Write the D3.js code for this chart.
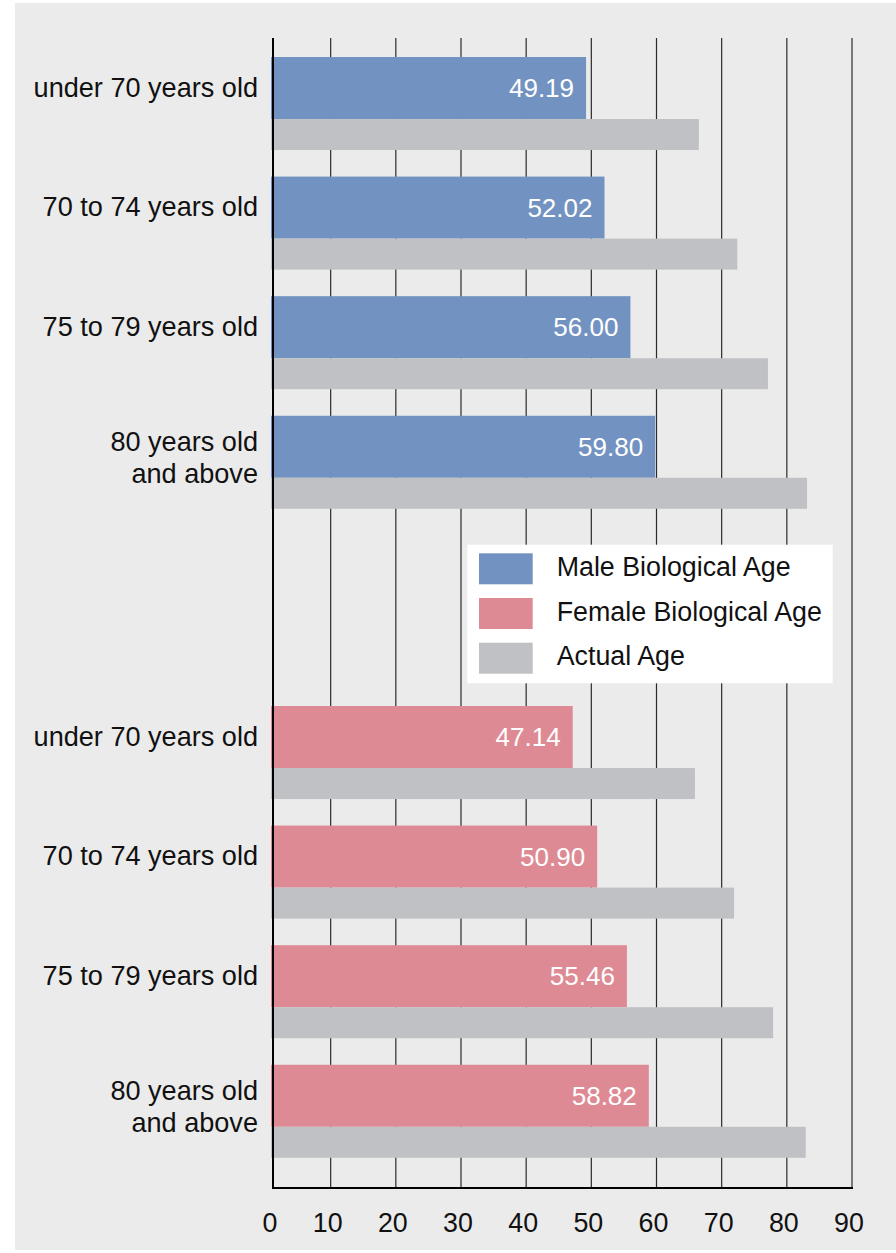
<!DOCTYPE html>
<html>
<head>
<meta charset="utf-8">
<script src="https://cdn.jsdelivr.net/npm/d3@7"></script>
<style>
  html, body { margin: 0; padding: 0; background: #ffffff; }
  svg { display: block; font-family: "Liberation Sans", Arial, Helvetica, sans-serif; }
</style>
</head>
<body>
<svg id="chart" width="896" height="1253"></svg>
<script>
// ---- data ----
const categories = ["under 70 years old", "70 to 74 years old", "75 to 79 years old", "80 years old\nand above"];
const maleBiological = [49.19, 52.02, 56.00, 59.80];
const maleActual = [66.5, 72.4, 77.1, 83.1];
const femaleBiological = [47.14, 50.90, 55.46, 58.82];
const femaleActual = [65.9, 71.9, 77.9, 82.9];
const tickValues = [0, 10, 20, 30, 40, 50, 60, 70, 80, 90];
const legendLabels = ["Male Biological Age", "Female Biological Age", "Actual Age"];

// ---- styles ----
const colors = { male: "#7293c1", female: "#de8a94", actual: "#c0c1c5", bg: "#ebebeb" };

const svg = d3.select("#chart");
svg.append("rect").attr("x", 15).attr("y", 3).attr("width", 881).attr("height", 1247).attr("fill", colors.bg);

const x = d3.scaleLinear().domain([0, 90]).range([265.5, 852]);
const axisX = x(0) + 7.5;
const plotTop = 38, plotBottom = 1188;

// grid lines
svg.append("g").selectAll("line").data(tickValues.filter(t => t > 0)).join("line")
  .attr("x1", d => x(d)).attr("x2", d => x(d))
  .attr("y1", plotTop).attr("y2", plotBottom)
  .attr("stroke", "#2a2a2a").attr("stroke-width", 1.2);

const yMale = d3.scaleBand().domain(categories).range([57, 508.8]).paddingInner(0.222).paddingOuter(0);
const yFemale = d3.scaleBand().domain(categories).range([706, 1157.8]).paddingInner(0.222).paddingOuter(0);

function drawGroup(yScale, bio, actual, color) {
  const bw = yScale.bandwidth();
  const bioH = bw * 2 / 3, actH = bw / 3;
  const g = svg.append("g");
  const rows = categories.map((c, i) => ({ c, bio: bio[i], act: actual[i] }));
  g.selectAll("rect.bio").data(rows).join("rect").attr("class", "bio")
    .attr("x", axisX - 2).attr("y", d => yScale(d.c))
    .attr("width", d => x(d.bio) - axisX + 2).attr("height", bioH)
    .attr("fill", color);
  g.selectAll("rect.act").data(rows).join("rect").attr("class", "act")
    .attr("x", axisX - 2).attr("y", d => yScale(d.c) + bioH)
    .attr("width", d => x(d.act) - axisX + 2).attr("height", actH)
    .attr("fill", colors.actual);
  g.selectAll("text.val").data(rows).join("text").attr("class", "val")
    .attr("x", d => x(d.bio) - 12).attr("y", d => yScale(d.c) + bioH / 2 + 9)
    .attr("text-anchor", "end").attr("fill", "#ffffff").attr("font-size", 26)
    .text(d => d3.format(".2f")(d.bio));
  const lbl = g.selectAll("text.cat").data(rows).join("text").attr("class", "cat")
    .attr("text-anchor", "end").attr("fill", "#111").attr("font-size", 27.1);
  lbl.each(function (d) {
    const lines = d.c.split("\n");
    const center = yScale(d.c) + bioH / 2;
    const t = d3.select(this);
    lines.forEach((ln, k) => {
      const base = lines.length === 1 ? center + 8.5 : center + 4 + k * 32;
      t.append("tspan").attr("x", 258).attr("y", base).text(ln);
    });
  });
}
drawGroup(yMale, maleBiological, maleActual, colors.male);
drawGroup(yFemale, femaleBiological, femaleActual, colors.female);

// axes lines
svg.append("line").attr("x1", axisX).attr("x2", axisX).attr("y1", plotTop).attr("y2", plotBottom + 1)
  .attr("stroke", "#000").attr("stroke-width", 2);
svg.append("line").attr("x1", axisX - 1).attr("x2", x(90) + 1).attr("y1", plotBottom).attr("y2", plotBottom)
  .attr("stroke", "#000").attr("stroke-width", 2);

// tick labels
svg.append("g").selectAll("text").data(tickValues).join("text")
  .attr("x", d => (d === 0 ? axisX : x(d)) - 3).attr("y", 1232)
  .attr("text-anchor", "middle").attr("fill", "#111").attr("font-size", 26.8)
  .text(d => d);

// legend
const lg = svg.append("g");
lg.append("rect").attr("x", 467.3).attr("y", 544.7).attr("width", 365.4).attr("height", 138.6).attr("fill", "#ffffff");
const legendColors = [colors.male, colors.female, colors.actual];
lg.selectAll("rect.sw").data(legendLabels).join("rect").attr("class", "sw")
  .attr("x", 479).attr("y", (d, i) => 553.3 + i * 44.7)
  .attr("width", 53.7).attr("height", 31).attr("fill", (d, i) => legendColors[i]);
lg.selectAll("text").data(legendLabels).join("text")
  .attr("x", 556.7).attr("y", (d, i) => 553.3 + i * 44.7 + 22.5)
  .attr("fill", "#111").attr("font-size", 26.8)
  .text(d => d);
</script>
</body>
</html>
